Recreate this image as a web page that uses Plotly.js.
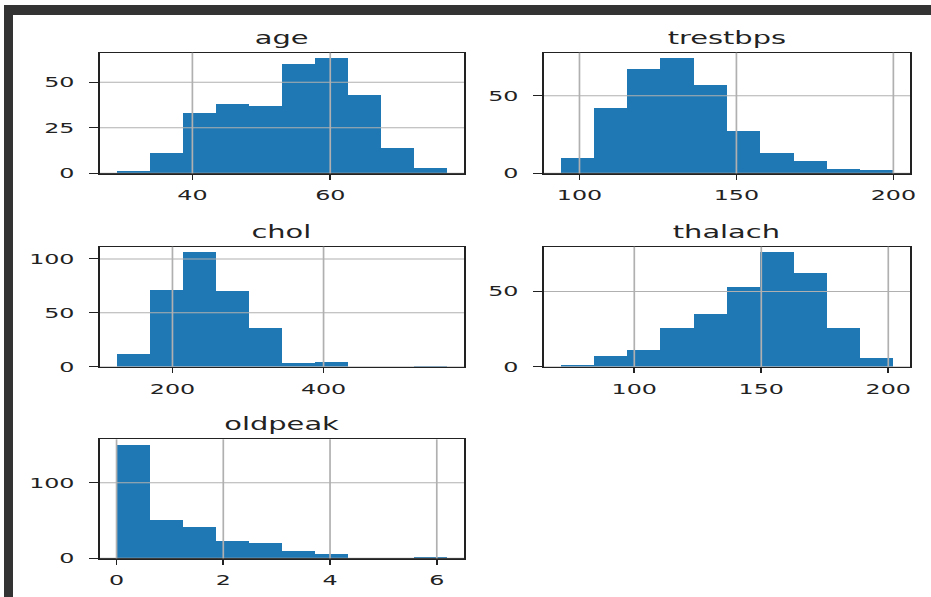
<!DOCTYPE html>
<html>
<head>
<meta charset="utf-8">
<script src="https://cdn.plot.ly/plotly-3.0.1.min.js"></script>
<style>
  html, body { margin:0; padding:0; background:#fff; }
  #wrap { position:absolute; left:0; top:0; width:931px; height:597px; overflow:hidden; background:#fff; }
  #plot { position:absolute; left:0; top:0; width:548px; height:597px; transform:scaleX(1.69891); transform-origin:0 0; }
  .bar { position:absolute; background:#333; }
</style>
</head>
<body>
<div id="wrap">
  <div id="plot"></div>
  <div class="bar" style="left:4px;top:5px;width:927px;height:10px;"></div>
  <div class="bar" style="left:4px;top:5px;width:9px;height:592px;"></div>
</div>
<script>
// ---- data (10 bins per variable, between min and max of each column) ----
const titles = ["age", "trestbps", "chol", "thalach", "oldpeak"];

const ageRange = [29, 77];
const ageCounts = [1, 11, 33, 38, 37, 60, 63, 43, 14, 3];
const ageXTicks = [40, 60];
const ageYTicks = [0, 25, 50];

const trestbpsRange = [94, 200];
const trestbpsCounts = [10, 42, 67, 74, 57, 27, 13, 8, 3, 2];
const trestbpsXTicks = [100, 150, 200];
const trestbpsYTicks = [0, 50];

const cholRange = [126, 564];
const cholCounts = [12, 71, 106, 70, 36, 3, 4, 0, 0, 1];
const cholXTicks = [200, 400];
const cholYTicks = [0, 50, 100];

const thalachRange = [71, 202];
const thalachCounts = [1, 7, 11, 26, 35, 53, 76, 62, 26, 6];
const thalachXTicks = [100, 150, 200];
const thalachYTicks = [0, 50];

const oldpeakRange = [0, 6.2];
const oldpeakCounts = [150, 51, 41, 23, 20, 10, 6, 0, 0, 2];
const oldpeakXTicks = [0, 2, 4, 6];
const oldpeakYTicks = [0, 100];

// ---- layout geometry ----
const W = 931, H = 597;
const colsPx = [[100, 464], [544, 910]];
const rowsPx = [[52.7, 173.3], [246.7, 366.7], [439.3, 558.3]];
const panels = [
  {range: ageRange, counts: ageCounts, xt: ageXTicks, yt: ageYTicks, col: 0, row: 0},
  {range: trestbpsRange, counts: trestbpsCounts, xt: trestbpsXTicks, yt: trestbpsYTicks, col: 1, row: 0},
  {range: cholRange, counts: cholCounts, xt: cholXTicks, yt: cholYTicks, col: 0, row: 1},
  {range: thalachRange, counts: thalachCounts, xt: thalachXTicks, yt: thalachYTicks, col: 1, row: 1},
  {range: oldpeakRange, counts: oldpeakCounts, xt: oldpeakXTicks, yt: oldpeakYTicks, col: 0, row: 2}
];

const traces = [];
const layout = {
  width: 548, height: H,
  margin: {l: 0, r: 0, t: 0, b: 0, pad: 0},
  paper_bgcolor: "#ffffff", plot_bgcolor: "#ffffff",
  showlegend: false,
  bargap: 0,
  font: {family: "DejaVu Sans", size: 14, color: "#222222"},
  annotations: [], shapes: []
};

panels.forEach((p, i) => {
  const n = p.counts.length;
  const w = (p.range[1] - p.range[0]) / n;
  const centers = p.counts.map((_, k) => p.range[0] + w * (k + 0.5));
  const sfx = i === 0 ? "" : String(i + 1);
  traces.push({
    type: "bar", x: centers, y: p.counts, width: w,
    xaxis: "x" + sfx, yaxis: "y" + sfx,
    marker: {color: "#1f77b4", line: {width: 0}},
    hoverinfo: "skip"
  });
  const span = p.range[1] - p.range[0];
  const ymax = Math.max(...p.counts) * 1.05;
  const xd = [colsPx[p.col][0] / W, colsPx[p.col][1] / W];
  const yd = [1 - rowsPx[p.row][1] / H, 1 - rowsPx[p.row][0] / H];
  const common = {
    showline: true, mirror: true, linecolor: "#222222", linewidth: 1.2,
    ticks: "outside", ticklen: 5, tickwidth: 1, tickcolor: "#222222",
    showgrid: false, zeroline: false, fixedrange: true,
    tickfont: {family: "DejaVu Sans", size: 14, color: "#222222"}
  };
  layout["xaxis" + sfx] = Object.assign({}, common, {
    domain: xd, range: [p.range[0] - 0.05 * span, p.range[1] + 0.05 * span],
    tickmode: "array", tickvals: p.xt, ticktext: p.xt.map(String),
    anchor: "y" + sfx, ticklabelstandoff: 4
  });
  layout["yaxis" + sfx] = Object.assign({}, common, {
    domain: yd, range: [0, ymax],
    tickmode: "array", tickvals: p.yt, ticktext: p.yt.map(String),
    anchor: "x" + sfx, ticklabelstandoff: 6
  });
  // grid lines drawn above bars, as in the matplotlib original
  p.xt.forEach(v => layout.shapes.push({
    type: "line", layer: "above", xref: "x" + sfx, yref: "y" + sfx + " domain",
    x0: v, x1: v, y0: 0, y1: 1, line: {color: "#b0b0b0", width: 1}
  }));
  p.yt.forEach(v => layout.shapes.push({
    type: "line", layer: "above", xref: "x" + sfx + " domain", yref: "y" + sfx,
    x0: 0, x1: 1, y0: v, y1: v, line: {color: "#b0b0b0", width: 1}
  }));
  layout.annotations.push({
    text: titles[i], xref: "paper", yref: "paper",
    x: (xd[0] + xd[1]) / 2, y: yd[1], xanchor: "center", yanchor: "bottom",
    yshift: 3, showarrow: false,
    font: {family: "DejaVu Sans", size: 17, color: "#222222"}
  });
});

Plotly.newPlot("plot", traces, layout, {staticPlot: true, displayModeBar: false, responsive: false});
</script>
</body>
</html>
